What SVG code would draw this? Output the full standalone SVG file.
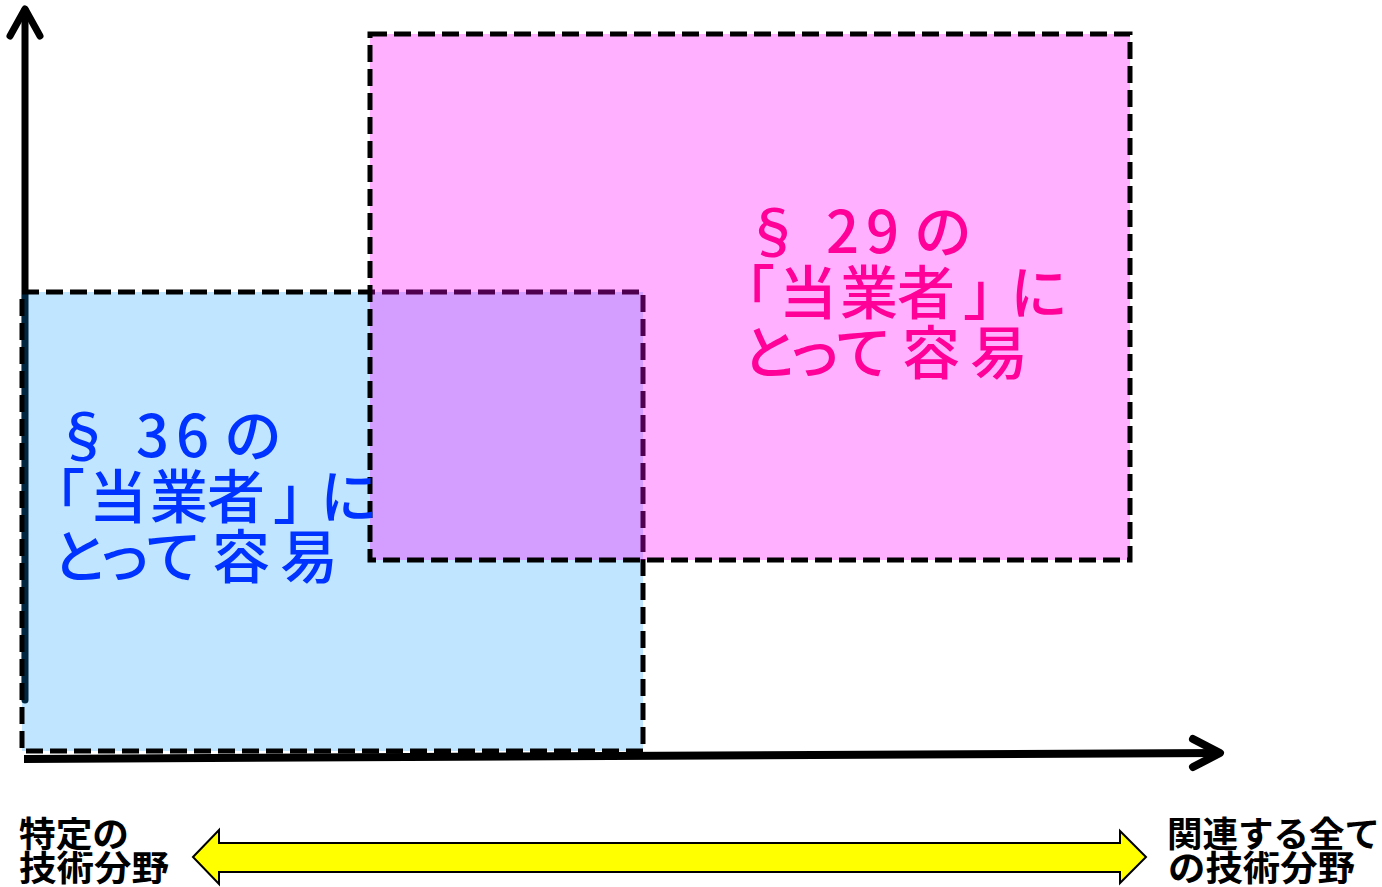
<svg xmlns="http://www.w3.org/2000/svg" width="1382" height="887" viewBox="0 0 1382 887">
<style>
.box{stroke:#000;stroke-width:5;stroke-dasharray:17 7}
.big{font-family:"Noto Sans CJK JP","Noto Sans",sans-serif;font-size:58px;font-weight:500}
.lbl{font-family:"Noto Sans CJK JP","Noto Sans",sans-serif;font-size:35px;font-weight:bold;fill:#000}
.ax{fill:none;stroke:#000;stroke-width:7;stroke-linecap:round;stroke-linejoin:round}
</style>
<rect width="1382" height="887" fill="#fff"/>
<g id="connectors">
<line class="ax" x1="25" y1="10" x2="25" y2="700"/>
<polyline class="ax" points="10,36 25,9 40,36"/>
<line x1="24" y1="759" x2="1218" y2="753" stroke="#000" stroke-width="8"/>
<polyline class="ax" points="1193,739 1220,753 1193,767" style="stroke-width:8"/>
<path d="M193,857 L219,830 L219,843 L1120,843 L1120,831 L1146,857 L1120,883 L1120,872 L219,872 L219,884 Z" fill="#ffff00" stroke="#000" stroke-width="2" stroke-linejoin="miter"/>
</g>
<g id="sec36">
<rect class="box" x="22" y="292" width="621" height="459" fill="#0099ff" fill-opacity="0.25"/>
</g>
<g id="sec29">
<rect class="box" x="370" y="34" width="760" height="526" fill="#ff00ff" fill-opacity="0.31"/>
</g>
<g id="sec29-text" class="big" fill="#ff0099">
<text x="744 795 826 866 914" y="253">§ 29の</text>
<text x="717 779 840 897 963 1010" y="314">「当業者」に</text>
<text x="741 785 834 902 970" y="374">とって容易</text>
</g>
<g id="sec36-text" class="big" fill="#0033ff">
<text x="54 105 136 176 224" y="457">§ 36の</text>
<text x="27 89 150 207 273 320" y="518">「当業者」に</text>
<text x="51 95 144 212 280" y="578">とって容易</text>
</g>
<g id="label-left">
<text class="lbl" x="19" y="847" textLength="110" lengthAdjust="spacingAndGlyphs">特定の</text>
<text class="lbl" x="19" y="881" textLength="150" lengthAdjust="spacingAndGlyphs">技術分野</text>
</g>
<g id="label-right">
<text class="lbl" x="1167" y="847" textLength="213" lengthAdjust="spacingAndGlyphs">関連する全て</text>
<text class="lbl" x="1168" y="881" textLength="187" lengthAdjust="spacingAndGlyphs">の技術分野</text>
</g>
</svg>
